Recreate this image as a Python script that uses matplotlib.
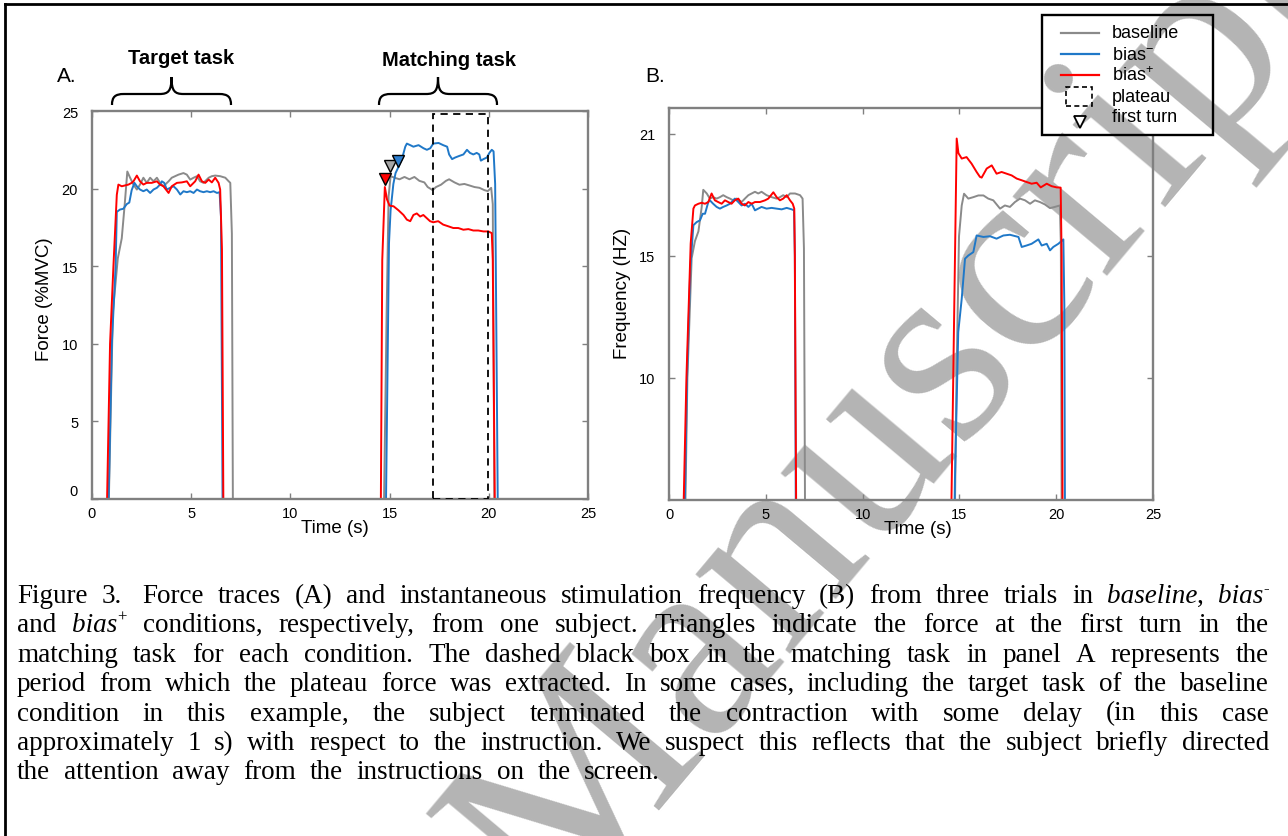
import matplotlib
matplotlib.use("Agg")
import matplotlib.pyplot as plt
import matplotlib.transforms as mtransforms
from matplotlib.lines import Line2D
from matplotlib.patches import Rectangle, PathPatch
from matplotlib.path import Path

# ---------------- data ----------------
# panel A: force (%MVC) against time (s)
force_t_baseline = [0, 0.85, 1.05, 1.3, 1.5, 1.65, 1.78, 1.92, 2.09, 2.26, 2.42, 2.59, 2.76, 2.93, 3.1, 3.27,
                    3.43, 3.6, 3.86, 4.02, 4.19, 4.36, 4.61, 4.78, 4.95, 5.12, 5.29, 5.45, 5.62, 5.88, 6.04,
                    6.21, 6.46, 6.72, 6.89, 6.97, 7.05, 7.1,
                    14.72, 14.85, 14.95, 15.05, 15.25, 15.5, 15.75, 16.0, 16.25, 16.5, 16.75, 16.92, 17.17,
                    17.34, 17.59, 17.84, 18.0, 18.27, 18.52, 18.77, 19.03, 19.28, 19.53, 19.78, 19.95, 20.12,
                    20.2, 20.28, 25]
force_baseline = [0, 0, 12, 15.5, 16.8, 19.0, 21.1, 20.7, 20.26, 19.94, 20.26, 20.7, 20.37, 20.7, 20.47, 20.7,
                  20.37, 20.15, 20.47, 20.7, 20.8, 20.9, 21.0, 20.9, 20.58, 20.7, 20.8, 20.47, 20.37, 20.7, 20.8,
                  20.84, 20.8, 20.7, 20.47, 20.37, 17.1, 0,
                  0, 12, 19.5, 20.8, 20.7, 20.6, 20.75, 20.6, 20.75, 20.5, 20.4, 20.1, 19.9,
                  20.1, 20.25, 20.5, 20.6, 20.4, 20.25, 20.3, 20.2, 20.1, 20.05, 19.9, 19.84, 20.05,
                  19.0, 0, 0]

force_t_bias_minus = [0, 0.84, 1.0, 1.19, 1.25, 1.41, 1.58, 1.75, 1.88, 2.0, 2.14, 2.26, 2.42, 2.59, 2.76, 2.93,
                      3.1, 3.27, 3.43, 3.52, 3.64, 3.77, 3.94, 4.11, 4.28, 4.45, 4.61, 4.78, 4.95, 5.12, 5.29,
                      5.45, 5.62, 5.79, 5.96, 6.13, 6.3, 6.43, 6.5, 6.58,
                      14.82, 14.97, 15.05, 15.19, 15.3, 15.45, 15.62, 15.79, 15.87, 16.04, 16.2, 16.46, 16.71,
                      16.88, 17.05, 17.2, 17.47, 17.7, 17.9, 18.0, 18.15, 18.3, 18.5, 18.72, 18.9, 19.05, 19.22,
                      19.39, 19.52, 19.6, 19.73, 19.9, 20.03, 20.15, 20.24, 20.32, 20.45, 25]
force_bias_minus = [0, 0, 10, 15, 18.5, 18.65, 18.7, 19.0, 19.1, 19.9, 20.37, 20.15, 19.94, 19.83, 19.94, 19.72,
                    19.94, 20.05, 20.26, 20.47, 20.37, 19.94, 20.05, 20.15, 19.94, 19.62, 19.83, 19.77, 19.83,
                    19.72, 19.94, 19.83, 19.77, 19.83, 19.77, 19.83, 19.72, 19.77, 18.2, 0,
                    0, 16.5, 18.6, 20.3, 21.0, 21.4, 21.9, 22.7, 22.9, 22.8, 22.7, 22.8, 22.6,
                    22.5, 22.6, 22.9, 22.94, 22.8, 22.7, 22.2, 21.9, 22.0, 22.1, 22.2, 22.5, 22.3, 22.2,
                    22.3, 22.2, 21.8, 21.9, 22.0, 22.3, 22.5, 22.4, 20.3, 0, 0]

force_t_bias_plus = [0, 0.76, 0.91, 1.08, 1.25, 1.33, 1.5, 1.84, 2.0, 2.09, 2.26, 2.42, 2.59, 2.76, 3.01, 3.27,
                     3.43, 3.6, 3.86, 4.02, 4.28, 4.53, 4.78, 4.95, 5.2, 5.37, 5.54, 5.71, 5.88, 6.04, 6.21,
                     6.38, 6.46, 6.55, 6.62,
                     14.56, 14.63, 14.76, 14.87, 15.0, 15.2, 15.45, 15.7, 15.87, 16.04, 16.2, 16.37, 16.54,
                     16.7, 16.87, 17.04, 17.2, 17.45, 17.7, 17.96, 18.21, 18.46, 18.72, 18.97, 19.22, 19.47,
                     19.73, 19.98, 20.15, 20.2, 20.3, 25]
force_bias_plus = [0, 0, 10, 15, 19.6, 20.26, 20.15, 20.26, 20.37, 20.47, 20.84, 20.47, 20.26, 20.37, 20.37,
                   20.47, 20.26, 20.15, 19.72, 20.15, 20.37, 20.4, 20.47, 20.15, 20.47, 20.9, 20.47, 20.37,
                   20.58, 20.4, 20.7, 20.37, 19.94, 16.1, 0,
                   0, 15.4, 20.1, 19.3, 18.9, 18.86, 18.6, 18.3, 18.0, 17.9, 18.3, 18.4, 18.2,
                   18.3, 18.1, 17.9, 17.83, 17.9, 17.68, 17.57, 17.46, 17.46, 17.35, 17.39, 17.3, 17.3,
                   17.24, 17.24, 17.13, 15.4, 0, 0]

# first turn in the matching task (baseline, bias-, bias+)
turn_time = [15.03, 15.40, 14.76]
turn_force = [21.45, 21.8, 20.6]

# plateau window
plateau_start = 17.2
plateau_end = 19.95
plateau_top = 24.8

# panel B: stimulation frequency against time (s)
freq_t_baseline = [0, 0.75, 0.95, 1.17, 1.34, 1.52, 1.69, 1.77, 1.95, 2.11, 2.28, 2.46, 2.63, 2.8, 2.98, 3.15,
                   3.32, 3.49, 3.75, 3.92, 4.1, 4.27, 4.44, 4.61, 4.78, 5.04, 5.3, 5.56, 5.73, 5.9, 6.08, 6.25,
                   6.51, 6.77, 6.9, 6.97, 7.05,
                   14.7, 14.85, 14.98, 15.12, 15.24, 15.46, 15.72, 15.98, 16.24, 16.49, 16.75, 17.1, 17.35,
                   17.61, 17.87, 18.13, 18.39, 18.65, 18.9, 19.16, 19.42, 19.68, 19.93, 20.19, 20.24, 20.3, 25]
freq_baseline = [0, 0, 10, 14.9, 15.6, 16.0, 17.0, 17.7, 17.55, 17.34, 17.4, 17.34, 17.4, 17.48, 17.4, 17.34,
                 17.27, 17.34, 17.2, 17.34, 17.48, 17.55, 17.62, 17.55, 17.62, 17.48, 17.4, 17.34, 17.4, 17.48,
                 17.4, 17.55, 17.55, 17.48, 17.34, 15.3, 0,
                 0, 10, 15.8, 17.06, 17.54, 17.34, 17.4, 17.47, 17.47, 17.34, 17.27, 16.93, 17.06,
                 17.0, 17.2, 17.34, 17.27, 17.13, 17.27, 17.2, 17.1, 16.95, 17.0, 17.06, 15.5, 0, 0]

freq_t_bias_minus = [0, 0.71, 0.93, 1.1, 1.26, 1.43, 1.6, 1.74, 1.86, 2.03, 2.11, 2.28, 2.46, 2.63, 2.8, 2.98,
                     3.15, 3.4, 3.58, 3.75, 3.92, 4.1, 4.27, 4.44, 4.61, 4.78, 5.04, 5.3, 5.56, 5.82, 6.08,
                     6.34, 6.46, 6.5, 6.57,
                     14.66, 14.77, 14.94, 15.12, 15.29, 15.46, 15.72, 15.89, 16.24, 16.58, 16.92, 17.27, 17.61,
                     18.05, 18.22, 18.47, 18.73, 19.08, 19.25, 19.51, 19.68, 19.85, 20.11, 20.37, 20.42, 20.47, 25]
freq_bias_minus = [0, 0, 10, 14.5, 16.25, 16.38, 16.45, 16.72, 16.72, 17.2, 17.27, 17.13, 17.0, 16.93, 17.0,
                   17.06, 17.13, 17.34, 17.2, 17.06, 17.13, 17.0, 17.13, 16.86, 16.93, 17.0, 16.93, 16.96,
                   16.93, 16.9, 16.96, 16.9, 16.86, 15.0, 0,
                   0, 5.86, 11.87, 13.24, 14.88, 15.01, 15.15, 15.83, 15.77, 15.8, 15.7, 15.83, 15.86,
                   15.77, 15.36, 15.42, 15.49, 15.67, 15.42, 15.49, 15.22, 15.36, 15.49, 15.67, 13.0, 0, 0]

freq_t_bias_plus = [0, 0.62, 0.9, 1.12, 1.26, 1.34, 1.52, 1.69, 1.86, 2.03, 2.2, 2.37, 2.54, 2.72, 2.89, 3.06,
                    3.23, 3.4, 3.58, 3.75, 3.92, 4.1, 4.27, 4.44, 4.7, 4.96, 5.13, 5.39, 5.56, 5.73, 5.9, 6.08,
                    6.25, 6.39, 6.47, 6.5, 6.6,
                    14.5, 14.86, 14.95, 15.12, 15.37, 15.63, 15.89, 16.06, 16.15, 16.41, 16.67, 16.92, 17.18,
                    17.44, 17.7, 17.96, 18.22, 18.47, 18.73, 18.99, 19.2, 19.51, 19.76, 20.02, 20.23, 20.28,
                    20.35, 25]
freq_bias_plus = [0, 0, 10, 15.5, 16.93, 17.06, 17.13, 17.17, 17.13, 17.2, 17.55, 17.27, 17.2, 17.13, 17.27,
                  17.2, 17.13, 17.27, 17.34, 17.13, 17.06, 17.2, 17.13, 17.2, 17.2, 17.27, 17.34, 17.6, 17.4,
                  17.27, 17.34, 17.48, 17.27, 17.13, 16.93, 15.0, 0,
                  0, 19.8, 19.2, 18.98, 19.04, 18.77, 18.43, 18.23, 18.2, 18.57, 18.7, 18.36, 18.43,
                  18.36, 18.29, 18.16, 18.09, 18.02, 17.95, 17.99, 17.8, 17.95, 17.85, 17.8, 17.79, 15.0,
                  0, 0]

freq_ticks = [10, 15, 20]
freq_tick_labels = ['10', '15', '21']

caption = [
    "Figure 3.  Force traces (A) and instantaneous stimulation frequency (B) from three trials in _baseline_, _bias_^-",
    "and _bias_^+ conditions, respectively, from one subject. Triangles indicate the force at the first turn in the",
    "matching task for each condition. The dashed black box in the matching task in panel A represents the",
    "period from which the plateau force was extracted. In some cases, including the target task of the baseline",
    "condition in this example, the subject terminated the contraction with some delay (in this case",
    "approximately 1 s) with respect to the instruction. We suspect this reflects that the subject briefly directed",
    "the attention away from the instructions on the screen.",
]

# ---------------- figure ----------------
W, H = 1288, 837
plt.rcParams['font.family'] = ['Liberation Sans', 'DejaVu Sans']
plt.rcParams['mathtext.fontset'] = 'custom'
plt.rcParams['mathtext.rm'] = 'Liberation Sans'

fig = plt.figure(figsize=(W / 100, H / 100), dpi=100)


def fx(x):
    return x / W


def fy(y):
    return 1 - y / H


def box(x0, y0, x1, y1):
    return [fx(x0), fy(y1), fx(x1) - fx(x0), fy(y0) - fy(y1)]


GREY = '#8a8a8a'
BLUE = '#1f78c8'
RED = '#ff0000'
SPINE = '#808080'
WM = '#b4b4b4'


def style_axes(ax):
    ax.set_facecolor('none')
    for s in ax.spines.values():
        s.set_color(SPINE)
        s.set_linewidth(1.7)
    ax.tick_params(direction='in', top=True, right=True, length=4, width=1,
                   color=SPINE, labelsize=10.5)
    ax.tick_params(axis='y', pad=10)
    ax.tick_params(axis='x', pad=5)


# panel A
axA = fig.add_axes(box(92, 112, 588, 500))
style_axes(axA)
axA.plot(force_t_baseline, force_baseline, color=GREY, lw=1.4)
axA.plot(force_t_bias_minus, force_bias_minus, color=BLUE, lw=1.4)
axA.plot(force_t_bias_plus, force_bias_plus, color=RED, lw=1.4)
axA.add_patch(Rectangle((plateau_start, 0), plateau_end - plateau_start, plateau_top,
                        fill=False, ec='black', lw=1.3, ls=(0, (4, 3)), zorder=3))
for t, f, c in zip(turn_time, turn_force, ['#a6a6a6', '#2e7fd0', RED]):
    axA.plot(t, f, marker='v', ms=9, mfc=c, mec='black', mew=1.0, ls='none', zorder=4)
axA.set_xlim(0, 25)
axA.set_ylim(0, 25)
axA.set_xticks([0, 5, 10, 15, 20, 25])
axA.set_yticks([0, 5, 10, 15, 20, 25])
axA.set_xlabel('Time (s)', fontsize=13.5)
axA.xaxis.set_label_coords(0.49, -0.052)
axA.set_ylabel('Force (%MVC)', fontsize=13.5, va='center')
axA.yaxis.set_label_coords(-0.095, 0.518)
zero_lbl = axA.yaxis.get_major_ticks()[0].label1
zero_lbl.set_transform(zero_lbl.get_transform()
                       + mtransforms.ScaledTranslation(0, 0.09, fig.dpi_scale_trans))

# panel B
axB = fig.add_axes(box(669, 109, 1153, 501))
style_axes(axB)
axB.plot(freq_t_baseline, freq_baseline, color=GREY, lw=1.4)
axB.plot(freq_t_bias_minus, freq_bias_minus, color=BLUE, lw=1.4)
axB.plot(freq_t_bias_plus, freq_bias_plus, color=RED, lw=1.4)
axB.set_xlim(0, 25)
axB.set_ylim(5, 21.05)
axB.set_xticks([0, 5, 10, 15, 20, 25])
axB.set_yticks(freq_ticks)
axB.set_yticklabels(freq_tick_labels)
axB.set_xlabel('Time (s)', fontsize=13.5)
axB.xaxis.set_label_coords(0.514, -0.052)
axB.set_ylabel('Frequency (HZ)', fontsize=13.5, va='center')
axB.yaxis.set_label_coords(-0.097, 0.53)

# panel letters and task labels
fig.text(fx(67), fy(77), 'A.', fontsize=15, ha='center', va='center')
fig.text(fx(655), fy(77), 'B.', fontsize=15, ha='center', va='center')
fig.text(fx(181), fy(59), 'Target task', fontsize=14.5, fontweight='bold', ha='center', va='center')
fig.text(fx(449), fy(60), 'Matching task', fontsize=14.5, fontweight='bold', ha='center', va='center')


def brace(x0, x1, ytip=106, ybar=95, ypk=78, r=12):
    xm = (x0 + x1) / 2
    pts = [(x0, ytip), (x0, ybar + 3), (x0 + 3, ybar), (x0 + r, ybar),
           (xm - r, ybar),
           (xm - 3, ybar), (xm, ybar - 3), (xm, ypk),
           (xm, ybar - 3), (xm + 3, ybar), (xm + r, ybar),
           (x1 - r, ybar),
           (x1 - 3, ybar), (x1, ybar + 3), (x1, ytip)]
    codes = [Path.MOVETO, Path.CURVE4, Path.CURVE4, Path.CURVE4, Path.LINETO,
             Path.CURVE4, Path.CURVE4, Path.CURVE4, Path.CURVE4, Path.CURVE4, Path.CURVE4,
             Path.LINETO, Path.CURVE4, Path.CURVE4, Path.CURVE4]
    path = Path([(fx(x), fy(y)) for x, y in pts], codes)
    fig.add_artist(PathPatch(path, fill=False, lw=1.6, ec='black', transform=fig.transFigure))


brace(112, 231)
brace(379, 497)

# outer frame (top and left edges are inside the image)
fig.add_artist(Line2D([fx(5), fx(1290)], [fy(5), fy(5)], color='black', lw=2.0, transform=fig.transFigure))
fig.add_artist(Line2D([fx(5), fx(5)], [fy(5), fy(840)], color='black', lw=2.0, transform=fig.transFigure))

# watermark
wm_x, wm_y = 553, 927
wm_kw = dict(fontsize=194, family='Liberation Serif', color=WM, rotation=50,
             rotation_mode='anchor', ha='left', va='baseline')
fig.text(fx(wm_x), fy(wm_y), 'Manuscript', zorder=-10, **wm_kw)

# legend (drawn by hand, white box on top of panel B)
lx0, ly0, lx1, ly1 = 1042, 16, 1213, 136
fig.add_artist(Rectangle((fx(lx0), fy(ly1)), fx(lx1) - fx(lx0), fy(ly0) - fy(ly1),
                         transform=fig.transFigure, fc='white', ec='none', zorder=5))
wm2 = fig.text(fx(wm_x), fy(wm_y), 'Manuscript', zorder=6, **wm_kw)
wm2.set_clip_box(mtransforms.TransformedBbox(
    mtransforms.Bbox.from_extents(fx(lx0), fy(ly1), fx(lx1), fy(ly0)), fig.transFigure))
wm2.set_clip_on(True)
fig.add_artist(Rectangle((fx(lx0), fy(ly1)), fx(lx1) - fx(lx0), fy(ly0) - fy(ly1),
                         transform=fig.transFigure, fill=False, ec='black', lw=1.7, zorder=8))
rows = [34, 55, 76, 97, 118]
for y, c in zip(rows[:3], [GREY, BLUE, RED]):
    fig.add_artist(Line2D([fx(1061), fx(1099)], [fy(y), fy(y)], color=c, lw=1.6,
                          transform=fig.transFigure, zorder=8))
fig.add_artist(Rectangle((fx(1066), fy(107)), fx(1092) - fx(1066), fy(88) - fy(107),
                         transform=fig.transFigure, fill=False, ec='black', lw=1.2,
                         ls=(0, (3, 2)), zorder=8))
fig.add_artist(Line2D([fx(1080)], [fy(123)], marker='v', ms=8, mfc='white', mec='black', mew=1.3,
                      ls='none', transform=fig.transFigure, zorder=8))
for y, lab in zip(rows, ['baseline', r'bias$^{\mathrm{-}}$', r'bias$^{\mathrm{+}}$', 'plateau', 'first turn']):
    fig.text(fx(1112), fy(y), lab, fontsize=13, ha='left', va='center', zorder=9)

# ---------------- caption, justified word by word ----------------
renderer = fig.canvas.get_renderer()
SERIF = 'Liberation Serif'
CAP_SIZE = 19.5


def parse_word(word):
    runs, buf, italic, i = [], '', False, 0
    while i < len(word):
        ch = word[i]
        if ch == '_':
            if buf:
                runs.append((buf, 'i' if italic else 'n'))
            buf = ''
            italic = not italic
        elif ch == '^':
            if buf:
                runs.append((buf, 'i' if italic else 'n'))
            buf = ''
            runs.append((word[i + 1], 's'))
            i += 1
        else:
            buf += ch
        i += 1
    if buf:
        runs.append((buf, 'i' if italic else 'n'))
    return runs


def run_width(s, kind, size):
    sz = size * 0.62 if kind == 's' else size
    t = fig.text(0, 0, s, fontsize=sz, family=SERIF, style='italic' if kind == 'i' else 'normal')
    w = t.get_window_extent(renderer).width
    t.remove()
    return w


# words of each line, with the number of extra spaces that follow each word
lines = []
for line in caption:
    ws, extra = [], []
    for tok in line.split(' '):
        if tok == '':
            extra[-1] += 1
        else:
            ws.append(parse_word(tok))
            extra.append(0)
    lines.append((ws, extra))

x_left, x_right = 17, 1269
last_end = 660
space = run_width('n n', 'n', CAP_SIZE) - run_width('nn', 'n', CAP_SIZE)
for i, (line, extra) in enumerate(lines):
    widths = [[run_width(s, k, CAP_SIZE) for s, k in runs] for runs in line]
    total = sum(sum(w) for w in widths) + space * sum(extra[:-1])
    end = x_right if i < len(lines) - 1 else last_end
    gap = (end - x_left - total) / (len(line) - 1)
    yb = 603 + 29.4 * i
    x = x_left
    for runs, ws, ex in zip(line, widths, extra):
        for (s, k), w in zip(runs, ws):
            if k == 's':
                fig.text(fx(x), fy(yb - 0.38 * CAP_SIZE * 100 / 72), s, fontsize=CAP_SIZE * 0.62,
                         family=SERIF, va='baseline', ha='left')
            else:
                fig.text(fx(x), fy(yb), s, fontsize=CAP_SIZE, family=SERIF,
                         style='italic' if k == 'i' else 'normal', va='baseline', ha='left')
            x += w
        x += gap + space * ex

fig.savefig('out.png', dpi=100)
